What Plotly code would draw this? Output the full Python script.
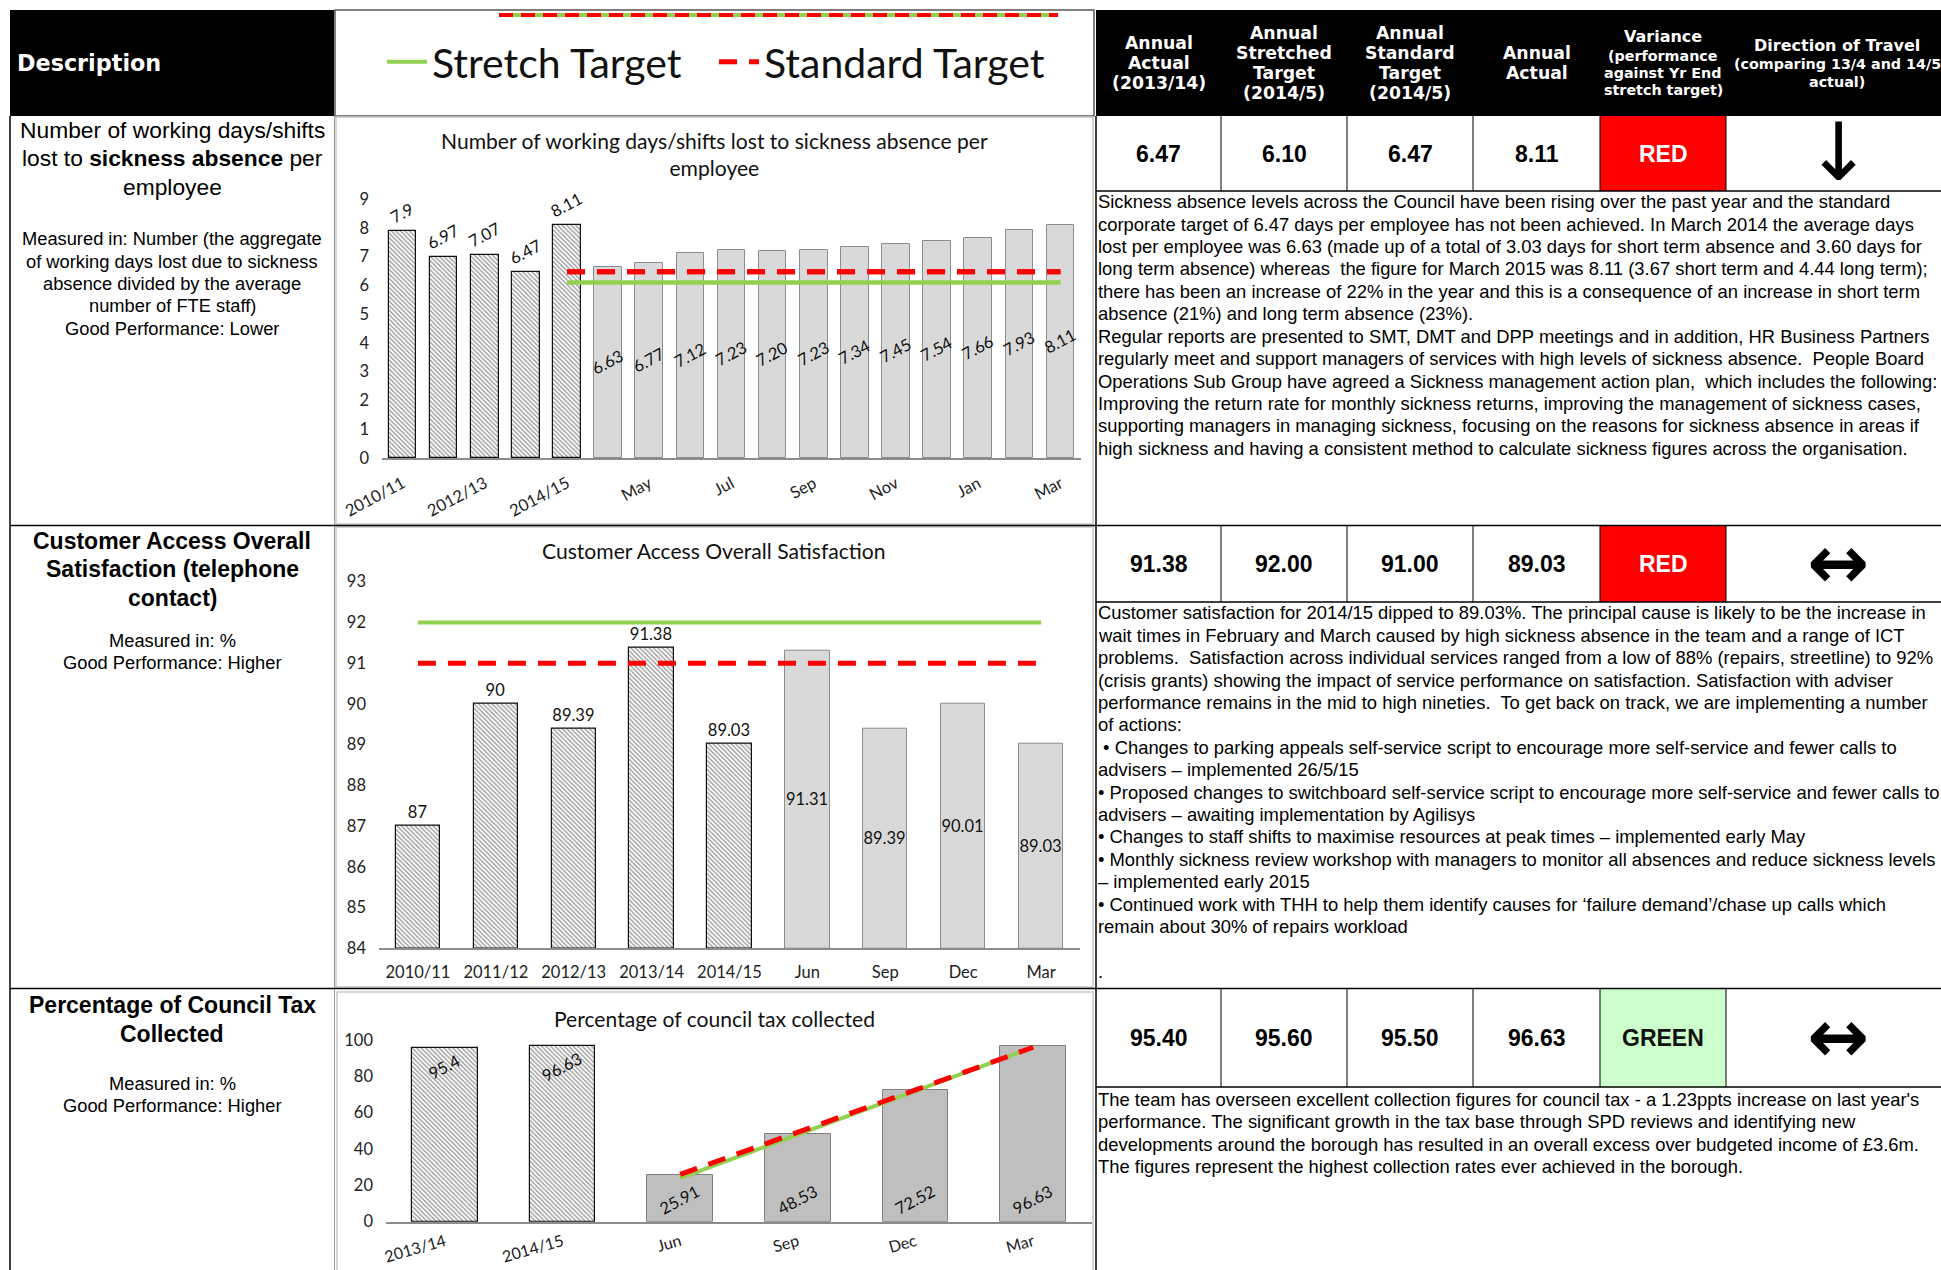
import plotly.graph_objects as go

W, H = 1941, 1270

# ---------------- data ----------------
sick_categories = ["2010/11", "2011/12", "2012/13", "2013/14", "2014/15", "Apr", "May", "Jun",
                   "Jul", "Aug", "Sep", "Oct", "Nov", "Dec", "Jan", "Feb", "Mar"]
sick_annual_cats = ["2010/11", "2011/12", "2012/13", "2013/14", "2014/15"]
sick_annual_vals = [7.9, 6.97, 7.07, 6.47, 8.11]
sick_annual_labels = ["7.9", "6.97", "7.07", "6.47", "8.11"]
sick_month_cats = ["Apr", "May", "Jun", "Jul", "Aug", "Sep", "Oct", "Nov", "Dec", "Jan", "Feb", "Mar"]
sick_month_vals = [6.63, 6.77, 7.12, 7.23, 7.20, 7.23, 7.34, 7.45, 7.54, 7.66, 7.93, 8.11]
sick_month_labels = ["6.63", "6.77", "7.12", "7.23", "7.20", "7.23", "7.34", "7.45", "7.54", "7.66", "7.93", "8.11"]
sick_tick_labels = ["2010/11", "2012/13", "2014/15", "May", "Jul", "Sep", "Nov", "Jan", "Mar"]
sick_target_x = ["2014/15", "Mar"]
sick_stretch = [6.10, 6.10]
sick_standard = [6.47, 6.47]

cust_categories = ["2010/11", "2011/12", "2012/13", "2013/14", "2014/15", "Jun", "Sep", "Dec", "Mar"]
cust_annual_cats = ["2010/11", "2011/12", "2012/13", "2013/14", "2014/15"]
cust_annual_vals = [87, 90, 89.39, 91.38, 89.03]
cust_annual_labels = ["87", "90", "89.39", "91.38", "89.03"]
cust_q_cats = ["Jun", "Sep", "Dec", "Mar"]
cust_q_vals = [91.31, 89.39, 90.01, 89.03]
cust_q_labels = ["91.31", "89.39", "90.01", "89.03"]
cust_axis_min = 84
cust_target_x = ["2010/11", "Mar"]
cust_stretch = [92, 92]
cust_standard = [91, 91]

tax_categories = ["2013/14", "2014/15", "Jun", "Sep", "Dec", "Mar"]
tax_annual_cats = ["2013/14", "2014/15"]
tax_annual_vals = [95.4, 96.63]
tax_annual_labels = ["95.4", "96.63"]
tax_q_cats = ["Jun", "Sep", "Dec", "Mar"]
tax_q_vals = [25.91, 48.53, 72.52, 96.63]
tax_q_labels = ["25.91", "48.53", "72.52", "96.63"]
tax_stretch = [24.0, 48.0, 72.0, 96.0]
tax_standard = [26.0, 49.0, 72.5, 96.0]

table_headers = [["Annual", "Actual", "(2013/14)"],
                 ["Annual", "Stretched", "Target", "(2014/5)"],
                 ["Annual", "Standard", "Target", "(2014/5)"],
                 ["Annual", "Actual"]]
table_actual_prev = ["6.47", "91.38", "95.40"]
table_stretch = ["6.10", "92.00", "95.60"]
table_standard = ["6.47", "91.00", "95.50"]
table_actual = ["8.11", "89.03", "96.63"]
table_variance = ["RED", "RED", "GREEN"]
table_direction = ["↓", "↔", "↔"]

desc_titles = [
    ["Number of working days/shifts", "lost to <b>sickness absence</b> per", "employee"],
    ["<b>Customer Access Overall</b>", "<b>Satisfaction (telephone</b>", "<b>contact)</b>"],
    ["<b>Percentage of Council Tax</b>", "<b>Collected</b>"],
]
desc_notes = [
    ["Measured in: Number (the aggregate", "of working days lost due to sickness",
     "absence divided by the average", "number of FTE staff)", "Good Performance: Lower"],
    ["Measured in: %", "Good Performance: Higher"],
    ["Measured in: %", "Good Performance: Higher"],
]
comments = [
    [
        "Sickness absence levels across the Council have been rising over the past year and the standard",
        "corporate target of 6.47 days per employee has not been achieved. In March 2014 the average days",
        "lost per employee was 6.63 (made up of a total of 3.03 days for short term absence and 3.60 days for",
        "long term absence) whereas  the figure for March 2015 was 8.11 (3.67 short term and 4.44 long term);",
        "there has been an increase of 22% in the year and this is a consequence of an increase in short term",
        "absence (21%) and long term absence (23%).",
        "Regular reports are presented to SMT, DMT and DPP meetings and in addition, HR Business Partners",
        "regularly meet and support managers of services with high levels of sickness absence.  People Board",
        "Operations Sub Group have agreed a Sickness management action plan,  which includes the following:",
        "Improving the return rate for monthly sickness returns, improving the management of sickness cases,",
        "supporting managers in managing sickness, focusing on the reasons for sickness absence in areas if",
        "high sickness and having a consistent method to calculate sickness figures across the organisation.",
    ],
    [
        "Customer satisfaction for 2014/15 dipped to 89.03%. The principal cause is likely to be the increase in",
        "wait times in February and March caused by high sickness absence in the team and a range of ICT",
        "problems.  Satisfaction across individual services ranged from a low of 88% (repairs, streetline) to 92%",
        "(crisis grants) showing the impact of service performance on satisfaction. Satisfaction with adviser",
        "performance remains in the mid to high nineties.  To get back on track, we are implementing a number",
        "of actions:",
        " • Changes to parking appeals self-service script to encourage more self-service and fewer calls to",
        "advisers – implemented 26/5/15",
        "• Proposed changes to switchboard self-service script to encourage more self-service and fewer calls to",
        "advisers – awaiting implementation by Agilisys",
        "• Changes to staff shifts to maximise resources at peak times – implemented early May",
        "• Monthly sickness review workshop with managers to monitor all absences and reduce sickness levels",
        "– implemented early 2015",
        "• Continued work with THH to help them identify causes for ‘failure demand’/chase up calls which",
        "remain about 30% of repairs workload",
        "",
        ".",
    ],
    [
        "The team has overseen excellent collection figures for council tax - a 1.23ppts increase on last year's",
        "performance. The significant growth in the tax base through SPD reviews and identifying new",
        "developments around the borough has resulted in an overall excess over budgeted income of £3.6m.",
        "The figures represent the highest collection rates ever achieved in the borough.",
    ],
]
chart_titles = ["Number of working days/shifts lost to sickness absence per<br>employee",
                "Customer Access Overall Satisfaction",
                "Percentage of council tax collected"]

# ---------------- styling ----------------
CHART_FONT = "Lato, Carlito, sans-serif"
BODY_FONT = "Liberation Sans, Arial, sans-serif"
HEAD_FONT = "DejaVu Sans, Verdana, sans-serif"
GREEN = "#92d050"
RED = "#ff0000"
DASH = "18px,12px"


def X(px):
    return px / W


def Y(py):
    return 1 - py / H


hatch = dict(color="white", line=dict(color="#111", width=1.2),
             pattern=dict(shape="\\", fgcolor="#2a2a2a", bgcolor="white", size=3.2, solidity=0.4))
lblfont = dict(family=CHART_FONT, size=16.5, color="#111")

fig = go.Figure()

# ---- chart 1 ----
fig.add_trace(go.Scatter(x=sick_target_x, y=sick_stretch, mode="lines", name="Stretch Target",
                         line=dict(color=GREEN, width=4), xaxis="x", yaxis="y", showlegend=True))
fig.add_trace(go.Scatter(x=sick_target_x, y=sick_standard, mode="lines", name="Standard Target",
                         line=dict(color=RED, width=5, dash=DASH), xaxis="x", yaxis="y", showlegend=True))
fig.add_trace(go.Bar(x=sick_annual_cats, y=sick_annual_vals, text=sick_annual_labels, textposition="outside",
                     textangle=-28, marker=hatch, width=0.67, xaxis="x", yaxis="y", showlegend=False,
                     constraintext="none", cliponaxis=False, textfont=lblfont))
fig.add_trace(go.Bar(x=sick_month_cats, y=sick_month_vals, text=sick_month_labels, textposition="inside",
                     insidetextanchor="middle", textangle=-28, width=0.67,
                     marker=dict(color="#d9d9d9", line=dict(color="#8c8c8c", width=1)),
                     xaxis="x", yaxis="y", showlegend=False, constraintext="none", textfont=lblfont))
fig.add_trace(go.Scatter(x=sick_target_x, y=sick_stretch, mode="lines", line=dict(color=GREEN, width=4),
                         xaxis="x", yaxis="y", showlegend=False, hoverinfo="skip"))
fig.add_trace(go.Scatter(x=sick_target_x, y=sick_standard, mode="lines", line=dict(color=RED, width=5, dash=DASH),
                         xaxis="x", yaxis="y", showlegend=False, hoverinfo="skip"))

# ---- chart 2 ----
fig.add_trace(go.Bar(x=cust_annual_cats, y=[v - cust_axis_min for v in cust_annual_vals], base=cust_axis_min,
                     text=cust_annual_labels, textposition="outside", textangle=0, marker=hatch, width=0.57,
                     xaxis="x2", yaxis="y2", showlegend=False, constraintext="none", cliponaxis=False,
                     textfont=lblfont))
fig.add_trace(go.Bar(x=cust_q_cats, y=[v - cust_axis_min for v in cust_q_vals], base=cust_axis_min,
                     text=cust_q_labels, textposition="inside", insidetextanchor="middle", textangle=0,
                     width=0.57, marker=dict(color="#d9d9d9", line=dict(color="#8c8c8c", width=1)),
                     xaxis="x2", yaxis="y2", showlegend=False, constraintext="none", textfont=lblfont))
fig.add_trace(go.Scatter(x=cust_target_x, y=cust_stretch, mode="lines", line=dict(color=GREEN, width=4),
                         xaxis="x2", yaxis="y2", showlegend=False))
fig.add_trace(go.Scatter(x=cust_target_x, y=cust_standard, mode="lines", line=dict(color=RED, width=5, dash=DASH),
                         xaxis="x2", yaxis="y2", showlegend=False))

# ---- chart 3 ----
fig.add_trace(go.Bar(x=tax_annual_cats, y=tax_annual_vals, text=tax_annual_labels, textposition="inside",
                     insidetextanchor="end", textangle=-28, marker=hatch, width=0.56,
                     xaxis="x3", yaxis="y3", showlegend=False, constraintext="none", textfont=lblfont))
fig.add_trace(go.Bar(x=tax_q_cats, y=tax_q_vals, text=tax_q_labels, textposition="inside",
                     insidetextanchor="start", textangle=-28, width=0.56,
                     marker=dict(color="#bfbfbf", line=dict(color="#7f7f7f", width=1)),
                     xaxis="x3", yaxis="y3", showlegend=False, constraintext="none", textfont=lblfont))
fig.add_trace(go.Scatter(x=tax_q_cats, y=tax_stretch, mode="lines", line=dict(color=GREEN, width=4),
                         xaxis="x3", yaxis="y3", showlegend=False))
fig.add_trace(go.Scatter(x=tax_q_cats, y=tax_standard, mode="lines", line=dict(color=RED, width=5, dash=DASH),
                         xaxis="x3", yaxis="y3", showlegend=False))

tickfont = dict(family=CHART_FONT, size=16.5, color="#222")
xcommon = dict(type="category", showline=True, linecolor="#8c8c8c", linewidth=1.5, ticks="",
               showgrid=False, zeroline=False, tickfont=tickfont, fixedrange=True, automargin=False,
               ticklabelstandoff=8)
ycommon = dict(showline=False, showgrid=False, zeroline=False, ticks="", tickfont=tickfont,
               ticklabelstandoff=12, fixedrange=True, automargin=False)

# ---------------- shapes: table grid ----------------
shapes = []


def rect(x0, y0, x1, y1, fill=None, line_color=None, lw=1):
    shapes.append(dict(type="rect", xref="paper", yref="paper", x0=X(x0), x1=X(x1), y0=Y(y1), y1=Y(y0),
                       fillcolor=fill if fill else "rgba(0,0,0,0)",
                       line=dict(color=line_color if line_color else "rgba(0,0,0,0)", width=lw if line_color else 0),
                       layer="below"))


def hline(x0, x1, y, color="#000", lw=1.5, dash=None, layer="above"):
    ln = dict(color=color, width=lw)
    if dash:
        ln["dash"] = dash
    shapes.append(dict(type="line", xref="paper", yref="paper", x0=X(x0), x1=X(x1), y0=Y(y), y1=Y(y),
                       line=ln, layer=layer))


def vline(x, y0, y1, color="#000", lw=1.5):
    shapes.append(dict(type="line", xref="paper", yref="paper", x0=X(x), x1=X(x), y0=Y(y0), y1=Y(y1),
                       line=dict(color=color, width=lw), layer="above"))


# header
rect(10, 10, 334, 116, fill="#000")
rect(1096, 10, 1941, 116, fill="#000")
rect(335, 10, 1094, 116, line_color="#555", lw=1.5)
hline(499, 1058, 15, color=GREEN, lw=4)
hline(499, 1058, 15, color=RED, lw=4, dash="14px,8px")

# chart frames
rect(336, 117, 1093, 524, line_color="#c8c8c8", lw=1.5)
rect(336, 527, 1093, 987, line_color="#c8c8c8", lw=1.5)
rect(337, 992, 1093, 1272, line_color="#c8c8c8", lw=1.5)

vline(10, 116, 1270)
vline(334.5, 116, 1270, color="#9a9a9a", lw=1)
hline(10, 1941, 525.5)
hline(10, 1941, 988.5)
vline(1096, 116, 1270)

row_tops = [116, 525.5, 988.5]
row_val_bottoms = [191, 602, 1087]
col_edges = [1096, 1221, 1347, 1473, 1600, 1726, 1941]
var_fill = {"RED": RED, "GREEN": "#ccffcc"}
for i in range(3):
    rect(1600, row_tops[i], 1726, row_val_bottoms[i], fill=var_fill[table_variance[i]])
    hline(1096, 1941, row_val_bottoms[i])
    for xe in col_edges[1:-1]:
        vline(xe, row_tops[i], row_val_bottoms[i], lw=1)

# ---------------- annotations ----------------
anns = []


def ann(text, x, y, size, family=BODY_FONT, color="#000", xanchor="center", yanchor="middle", align="center"):
    anns.append(dict(text=text, x=X(x), y=Y(y), xref="paper", yref="paper", showarrow=False,
                     font=dict(size=size, family=family, color=color), xanchor=xanchor, yanchor=yanchor,
                     align=align, borderpad=0))


def text_lines(lines, x, y0, dy, size, family=BODY_FONT, color="#000", xanchor="center", bold=False):
    for k, ln in enumerate(lines):
        if not ln.strip():
            continue
        ann("<b>%s</b>" % ln if bold else ln, x, y0 + k * dy, size, family=family, color=color, xanchor=xanchor)


ann("<b>Description</b>", 16, 63, 22.3, family=HEAD_FONT, color="white", xanchor="left")
col_centers = [(col_edges[i] + col_edges[i + 1]) / 2 for i in range(6)]
header_first = [43.3, 33.4, 33.4, 53.2]
for i, t in enumerate(table_headers):
    text_lines(t, col_centers[i], header_first[i], 19.8, 17.3, family=HEAD_FONT, color="white", bold=True)
ann("<b>Variance</b>", col_centers[4], 37, 16, family=HEAD_FONT, color="white")
text_lines(["(performance", "against Yr End", "stretch target)"], col_centers[4], 55.7, 17.3, 14.3,
           family=HEAD_FONT, color="white", bold=True)
ann("<b>Direction of Travel</b>", 1837, 46, 16, family=HEAD_FONT, color="white")
text_lines(["(comparing 13/4 and 14/5", "actual)"], 1837, 64.4, 17.3, 14.3, family=HEAD_FONT,
           color="white", bold=True)

val_centers = [153.5, 564, 1038]
for i in range(3):
    vals = [table_actual_prev[i], table_stretch[i], table_standard[i], table_actual[i]]
    for j, v in enumerate(vals):
        ann("<b>%s</b>" % v, col_centers[j], val_centers[i], 23)
    ann("<b>%s</b>" % table_variance[i], col_centers[4], val_centers[i], 23,
        color="white" if table_variance[i] == "RED" else "#111")
ann(table_direction[0], 1838, 152, 80, family="DejaVu Sans")
ann("<b>%s</b>" % table_direction[1], 1838, 562, 74, family="DejaVu Sans")
ann("<b>%s</b>" % table_direction[2], 1838, 1036, 74, family="DejaVu Sans")

# comment texts (line by line)
comment_first = [201.8, 612.8, 1099.3]
for i in range(3):
    text_lines(comments[i], 1097, comment_first[i], 22.4, 18.4, xanchor="left")

# description column
desc_title_first = [130, 541, 1005.3]
desc_title_sizes = [22.8, 23, 23]
desc_note_first = [239, 640, 1083.3]
for i in range(3):
    text_lines(desc_titles[i], 172, desc_title_first[i], 28.3, desc_title_sizes[i])
    text_lines(desc_notes[i], 172, desc_note_first[i], 22.3, 18.3)

# chart titles
title_centers = [153.5, 550, 1018]
for i in range(3):
    ann(chart_titles[i], 714, title_centers[i], 21.1, family=CHART_FONT, color="#111")

fig.update_layout(
    width=W, height=H, margin=dict(l=0, r=0, t=0, b=0, pad=0, autoexpand=False),
    paper_bgcolor="white", plot_bgcolor="rgba(0,0,0,0)",
    barmode="overlay", bargap=0,
    shapes=shapes, annotations=anns,
    legend=dict(orientation="h", x=X(382), xanchor="left", y=Y(62), yanchor="middle",
                font=dict(family=CHART_FONT, size=41, color="#111"), bgcolor="rgba(0,0,0,0)",
                itemwidth=40, traceorder="normal", entrywidth=277),
    xaxis=dict(xcommon, domain=[X(382), X(1081)], anchor="y", categoryorder="array",
               categoryarray=sick_categories, range=[-0.5, 16.5], tickmode="array",
               tickvals=sick_tick_labels, ticktext=sick_tick_labels, tickangle=-28),
    yaxis=dict(ycommon, domain=[Y(458), Y(199)], anchor="x", range=[0, 9], dtick=1),
    xaxis2=dict(xcommon, domain=[X(379), X(1080)], anchor="y2", categoryorder="array",
                categoryarray=cust_categories, range=[-0.5, 8.5], tickangle=0),
    yaxis2=dict(ycommon, domain=[Y(948.3), Y(581.7)], anchor="x2", range=[84, 93], dtick=1),
    xaxis3=dict(xcommon, domain=[X(386), X(1092)], anchor="y3", categoryorder="array",
                categoryarray=tax_categories, range=[-0.5, 5.5], tickangle=-16, ticklabelstandoff=3,
                tickfont=dict(family=CHART_FONT, size=16, color="#222")),
    yaxis3=dict(ycommon, domain=[Y(1221.7), Y(1040)], anchor="x3", range=[0, 100], dtick=20),
    showlegend=True,
)

fig.write_html("out.html", config={"displayModeBar": False},
               post_script="document.body.style.margin='0px';")
